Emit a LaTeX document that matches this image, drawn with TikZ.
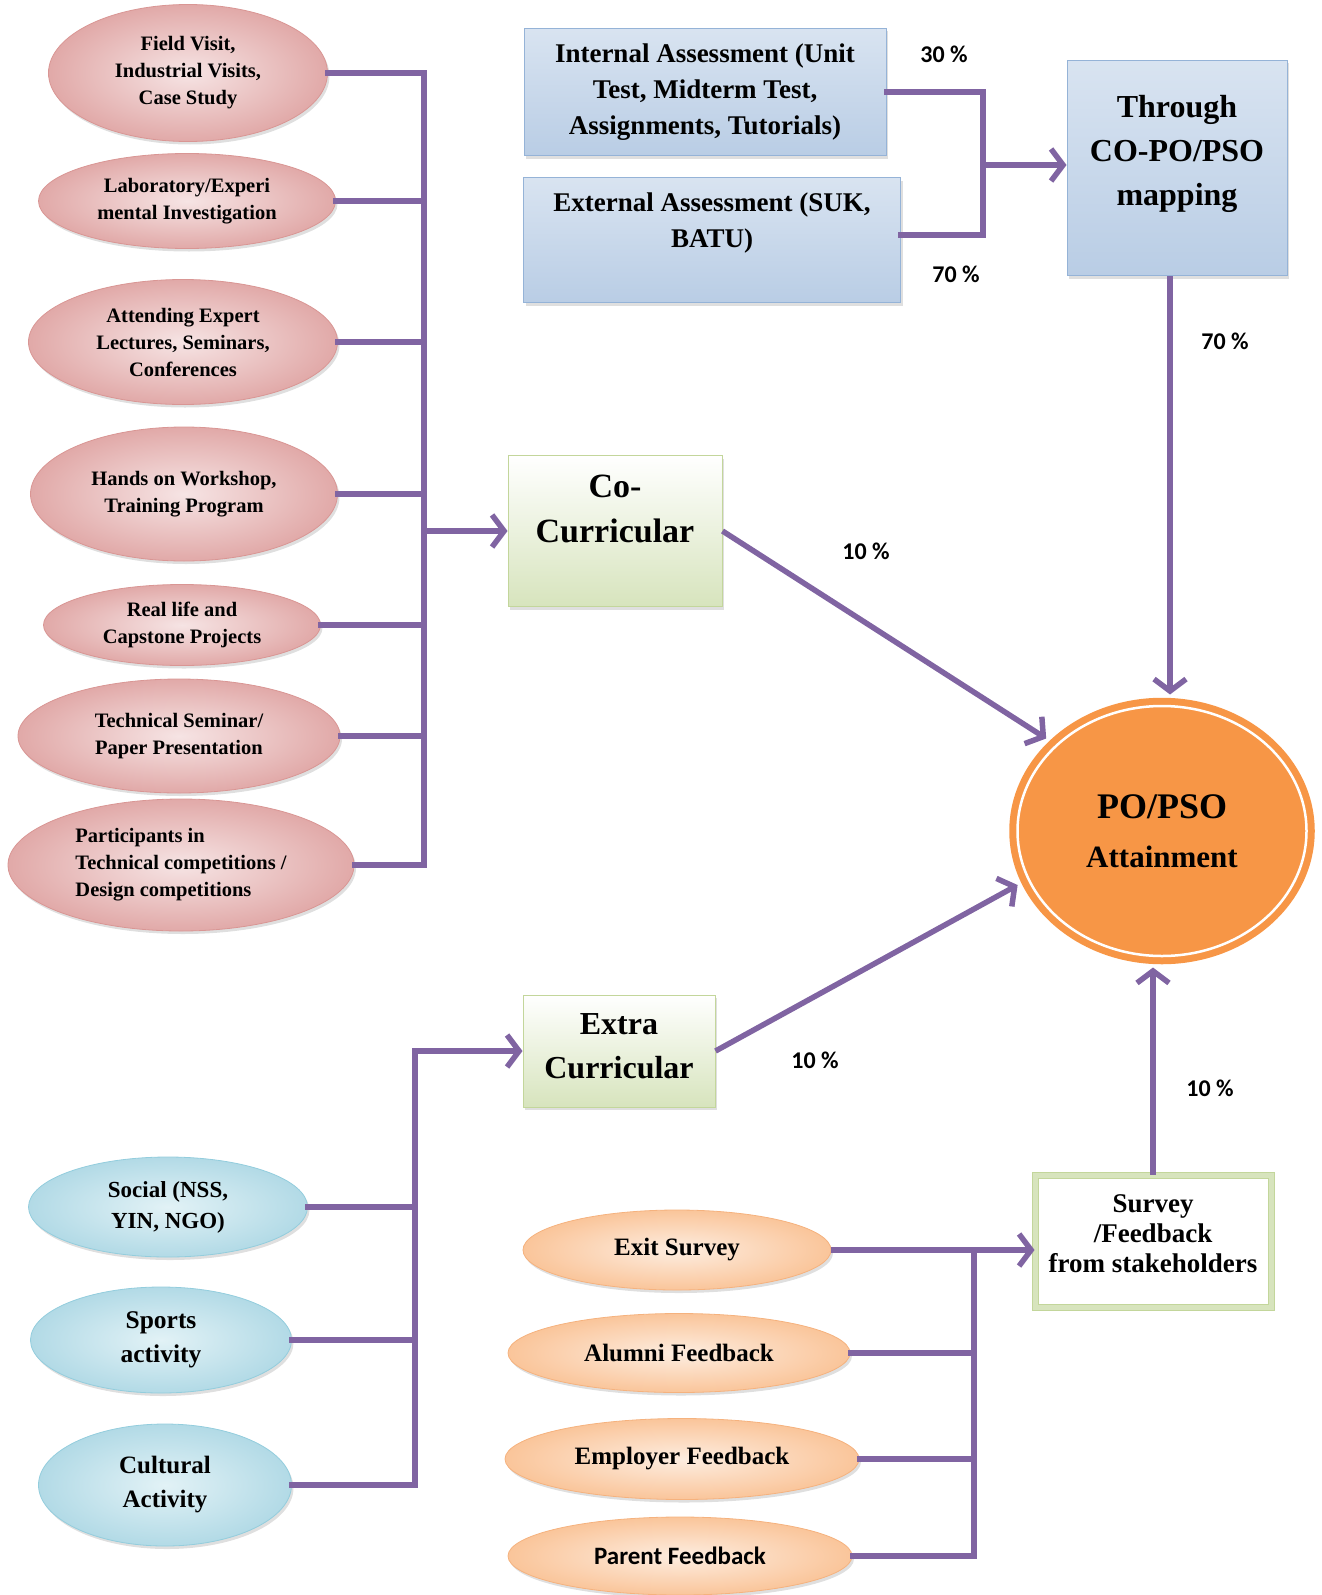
\documentclass[tikz,border=0pt]{standalone}
\usepackage{fontspec}
\setmainfont{Liberation Serif}
\newfontfamily\pctfont{Carlito}
\usetikzlibrary{shapes.geometric,arrows.meta,shadows}

\definecolor{linkpurple}{HTML}{8064A2}
\definecolor{pinkin}{HTML}{F6E4E4}
\definecolor{pinkout}{HTML}{E1A9A8}
\definecolor{pinkline}{HTML}{D99694}
\definecolor{bluefill}{HTML}{B9CDE5}
\definecolor{blueline}{HTML}{95B3D7}
\definecolor{greenfill}{HTML}{D7E4BD}
\definecolor{greenline}{HTML}{C3D69B}
\definecolor{cyanin}{HTML}{E2F2F6}
\definecolor{cyanout}{HTML}{B2DAE6}
\definecolor{cyanline}{HTML}{93CDDD}
\definecolor{peachin}{HTML}{FDEDE0}
\definecolor{peachout}{HTML}{FAC59A}
\definecolor{peachline}{HTML}{F5B27E}
\definecolor{poorange}{HTML}{F79646}

\newcommand{\fsz}[2]{\fontsize{#1}{#2}\selectfont\bfseries}

\tikzset{
  conn/.style={draw=linkpurple, line width=5.5pt, line cap=rect},
  arr/.style={draw=linkpurple, line width=5.5pt, -{Straight Barb[length=12pt,width=32pt]}},
  softshadow/.style={drop shadow={opacity=0.25, shadow xshift=2pt, shadow yshift=-3pt}},
  ell/.style={ellipse, inner sep=0pt, align=center, draw=#1, line width=0.8pt, softshadow},
  pinkell/.style={ell=pinkline, shading=radial, inner color=pinkin, outer color=pinkout, font=\fsz{20.5}{27}},
  cyanell/.style={ell=cyanline, shading=radial, inner color=cyanin, outer color=cyanout},
  peachell/.style={ell=peachline, shading=radial, inner color=peachin, outer color=peachout, font=\fsz{25}{30}},
  bluebox/.style={rectangle, align=center, draw=blueline, line width=1pt, top color=bluefill!55!white, middle color=bluefill!20!white, bottom color=bluefill, softshadow},
  greenbox/.style={rectangle, draw=greenline, line width=1pt, top color=white, bottom color=greenfill, softshadow},
  surveybox/.style={rectangle, fill=white, draw=greenline, double=greenfill, double distance=5pt, line width=1pt, softshadow},
  pocirc/.style={ellipse, inner sep=0pt, align=center, fill=poorange, draw=poorange, double=white, double distance=2.5pt, line width=7pt},
  boxtext/.style={align=center, inner sep=0pt},
  pct/.style={font=\pctfont\fontsize{24}{28}\selectfont\bfseries}
}

\begin{document}
\begin{tikzpicture}[x=1pt,y=-1pt]
\useasboundingbox (0,0) rectangle (1322,1595);

% co-curricular activities
\node[pinkell, minimum width=279pt, minimum height=137pt] (fv) at (188,73) {Field Visit,\\Industrial Visits,\\Case Study};
\node[pinkell, minimum width=297pt, minimum height=95pt] (lab) at (187,201) {Laboratory/Experi\\mental Investigation};
\node[pinkell, minimum width=309pt, minimum height=125pt] (lec) at (183,342) {Attending Expert\\Lectures, Seminars,\\Conferences};
\node[pinkell, minimum width=307pt, minimum height=134pt] (ws) at (184,494) {Hands on Workshop,\\Training Program};
\node[pinkell, minimum width=277pt, minimum height=81pt] (proj) at (182,625) {Real life and\\Capstone Projects};
\node[pinkell, minimum width=322pt, minimum height=114pt] (sem) at (179,736) {Technical Seminar/\\Paper Presentation};
\node[pinkell, minimum width=346pt, minimum height=132pt, align=left] (comp) at (181,865) {Participants in\\Technical competitions /\\Design competitions};

\node[greenbox, minimum width=214pt, minimum height=151pt] (cocur) at (615,531) {};
\node[boxtext, font=\fsz{34}{45}] (cocurtxt) at ([yshift=22pt]cocur.center) {Co-\\Curricular};

\coordinate (bus1) at (424,531);
\foreach \n in {fv,lab,lec,ws,proj,sem,comp}
  \draw[conn] (\n.east) -- (\n.east -| bus1);
\draw[conn] (fv.east -| bus1) -- (comp.east -| bus1);
\draw[arr] (cocur.west -| bus1) -- (cocur.west);

% assessment
\node[bluebox, minimum width=362pt, minimum height=127pt, font=\fsz{27}{36}] (intas) at (705,92) {Internal Assessment (Unit\\Test, Midterm Test,\\Assignments, Tutorials)};
\node[bluebox, minimum width=377pt, minimum height=125pt] (extas) at (712,240) {};
\node[boxtext, font=\fsz{27}{36}] (extastxt) at ([yshift=17pt]extas.center) {External Assessment (SUK,\\BATU)};
\node[bluebox, minimum width=220pt, minimum height=215pt] (map) at (1177,168) {};
\node[boxtext, font=\fsz{32}{44}] (maptxt) at ([yshift=14pt]map.center) {Through\\CO-PO/PSO\\mapping};

\coordinate (bus2) at (983,165);
\draw[conn] (intas.east) -- (intas.east -| bus2);
\draw[conn] ([yshift=5pt]extas.east) -- ([yshift=5pt]extas.east -| bus2);
\draw[conn] (intas.east -| bus2) -- ([yshift=5pt]extas.east -| bus2);
\draw[arr] (bus2) -- (bus2 -| map.west);

% attainment
\node[pocirc, minimum width=289pt, minimum height=250pt, font=\fsz{31}{49}] (po) at (1162,831) {{\fsz{36}{49}PO/PSO}\\Attainment};

\draw[arr, shorten >=8pt] ([xshift=-7pt]map.south) -- ([xshift=-7pt]map.south |- po.north);
\draw[arr, shorten >=9pt] (cocur.east) -- (po.141);

% extra-curricular activities
\node[greenbox, minimum width=192pt, minimum height=112pt] (extra) at (619,1051) {};
\node[boxtext, font=\fsz{32}{44}] (extratxt) at ([yshift=5pt]extra.center) {Extra\\Curricular};
\draw[arr, shorten >=9pt] (extra.east) -- (po.200);

\node[cyanell, minimum width=279pt, minimum height=100pt, font=\fsz{23}{31}] (soc) at (168,1207) {Social (NSS,\\YIN, NGO)};
\node[cyanell, minimum width=261pt, minimum height=106pt, font=\fsz{25.5}{34}] (spo) at (161,1340) {Sports\\activity};
\node[cyanell, minimum width=253pt, minimum height=122pt, font=\fsz{25}{34}] (cul) at (165,1485) {Cultural\\Activity};

\coordinate (bus3) at (415,1051);
\foreach \n in {soc,spo,cul}
  \draw[conn] (\n.east) -- (\n.east -| bus3);
\draw[conn] (extra.west -| bus3) -- (cul.east -| bus3);
\draw[arr] (extra.west -| bus3) -- (extra.west);

% feedback
\node[peachell, minimum width=308pt, minimum height=80pt] (exit) at (677,1250) {Exit Survey};
\node[peachell, minimum width=342pt, minimum height=79pt] (alum) at (679,1353) {Alumni Feedback};
\node[peachell, minimum width=354pt, minimum height=81pt] (empl) at (682,1459) {Employer Feedback};
\node[peachell, minimum width=344pt, minimum height=78pt, font=\pctfont\fontsize{25}{30}\selectfont\bfseries] (par) at (680,1556) {Parent Feedback};

\node[surveybox, minimum width=236pt, minimum height=132pt] (surv) at (1153,1241) {};
\node[boxtext, font=\fsz{27}{30}] (survtxt) at ([yshift=7pt]surv.center) {Survey\\/Feedback\\from stakeholders};

\coordinate (bus4) at (974,1250);
\foreach \n in {alum,empl,par}
  \draw[conn] (\n.east) -- (\n.east -| bus4);
\draw[conn] (exit.east -| bus4) -- (par.east -| bus4);
\draw[arr] (exit.east) -- (exit.east -| surv.west);
\draw[arr, shorten >=8pt] (surv.north) -- (surv.north |- po.south);

% weights
\node[pct] (p30) at (944,54) {30 \%};
\node[pct] (p70a) at (956,274) {70 \%};
\node[pct] (p70b) at (1225,341) {70 \%};
\node[pct] (p10a) at (866,551) {10 \%};
\node[pct] (p10b) at (815,1060) {10 \%};
\node[pct] (p10c) at (1210,1088) {10 \%};

\end{tikzpicture}
\end{document}
